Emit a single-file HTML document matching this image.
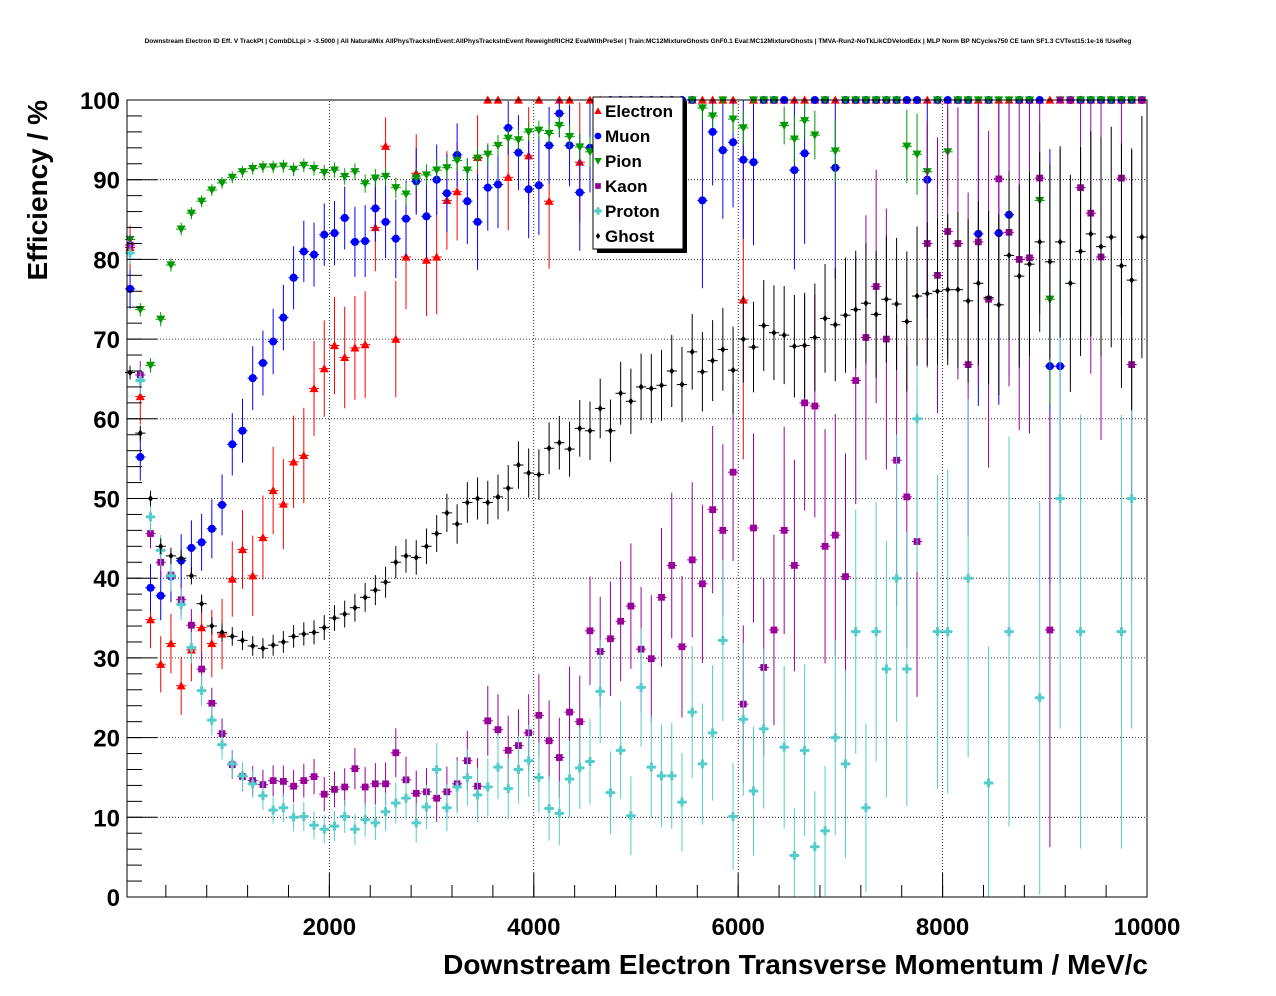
<!DOCTYPE html>
<html><head><meta charset="utf-8">
<style>
html,body{margin:0;padding:0;background:#fff;}
svg{display:block;font-family:"Liberation Sans",sans-serif;}
</style></head>
<body>
<svg id="chart" width="1276" height="996" viewBox="0 0 1276 996">
<text x="638" y="43" text-anchor="middle" font-size="6.5" font-weight="bold">Downstream Electron ID Eff. V TrackPt | CombDLLpi &gt; -3.5000 | All NaturalMix AllPhysTracksInEvent:AllPhysTracksInEvent ReweightRICH2 EvalWithPreSel | Train:MC12MixtureGhosts GhF0.1 Eval:MC12MixtureGhosts | TMVA-Run2-NoTkLikCDVelodEdx | MLP Norm BP NCycles750 CE tanh SF1.3 CVTest15:1e-16 !UseReg</text>
<g id="grid"></g>
<g id="marks"></g>
<rect x="127" y="100" width="1020" height="797" fill="none" stroke="#000" stroke-width="1"/>
<g id="axes"></g>
<text x="1148" y="974" text-anchor="end" font-size="28" font-weight="bold">Downstream Electron Transverse Momentum / MeV/c</text>
<text transform="translate(47,100) rotate(-90)" text-anchor="end" font-size="28" font-weight="bold">Efficiency / %</text>
<g id="legend"></g>
</svg>
<script>
const xTicks=[2000,4000,6000,8000,10000];
const yTicks=[0,10,20,30,40,50,60,70,80,90,100];
const seriesNames=["Electron","Muon","Pion","Kaon","Proton","Ghost"];
const electron=[81.5,62.8,34.8,29.2,31.8,26.5,31,33.8,31.8,33,39.9,43.6,40.3,45.1,51,49.3,54.6,55.4,63.8,66.3,69.2,67.7,68.9,69.3,84,94.2,70,80.3,90.8,79.9,80.3,87.4,88.5,null,92.8,100,100,90.3,100,93,100,87.3,100,100,92.2,100,100,100,100,100,100,100,100,100,100,100,100,100,100,100,74.9,100,100,100,100,100,100,100,100,100,100,100,100,100,100,100,100,100,100,100,100,100,100,100,100,100,100,100,100,100,100,100,100,100,100,100,100,100,100,100];
const muon=[76.3,55.2,38.8,37.8,40.2,42.2,43.8,44.5,46.2,49.2,56.8,58.5,65.1,67,69.7,72.7,77.7,81,80.6,83.1,83.3,85.2,82.2,82.3,86.4,84.7,82.6,85.1,89.8,85.4,90,88.3,93.1,87.3,84.7,89,89.4,96.5,93.4,88.8,89.3,94.3,98.3,94.3,88.4,94,89.3,100,100,100,100,100,100,100,100,100,87.4,96,93.7,94.7,92.5,92.2,100,100,100,91.2,93.3,100,100,91.5,100,100,100,100,100,100,100,100,90,100,100,100,100,83.2,100,83.3,85.6,100,100,100,66.6,66.6,100,100,100,100,100,100,100,100];
const pion=[82.5,73.7,66.7,72.5,79.3,83.8,85.8,87.3,88.7,89.6,90.3,91,91.4,91.6,91.6,91.7,91.3,91.8,91.4,90.9,91.2,90.4,91,89.5,90.2,90.4,89,88.2,90.2,90.6,91.2,91.5,92.4,91.2,92.7,93.2,94.3,95.2,95,96,96.2,95.8,96.8,95.4,94.1,93.5,96,97,95,98,96,99,97,95,98,100,99,98,100,97.6,96.5,100,100,100,96.8,95.1,97.4,95.6,100,93.6,100,100,100,100,100,100,94.2,93.2,91,100,93.5,100,100,100,100,100,100,100,100,87.4,75,100,100,100,100,100,100,100,100,100];
const kaon=[81.8,65.5,45.6,42,40.4,37.3,34.1,28.6,24.3,20.5,16.6,15.1,14.6,14.1,14.6,14.5,13.9,14.6,15.1,12.9,13.5,13.8,16.1,13.8,14.2,14.2,18.1,14.7,13,13.2,12.4,13.2,14.2,17.1,13.9,22.1,21,18.4,19,20.6,22.8,19.6,17.5,23.2,22,33.4,30.8,32.4,34.6,36.5,31.1,29.9,37.6,41.6,31.4,42.3,39.3,48.6,46,53.3,24.2,46.3,28.8,33.5,46,41.6,62,61.6,44,45.4,40.2,64.8,70.2,76.6,70,54.8,50.2,44.6,82,78,83.5,82,66.8,82.2,75,90.1,83.4,80,80.2,90.2,33.5,100,100,89,85.8,80.3,null,90.2,66.8,100];
const proton=[80.8,64.8,47.7,43.5,40.3,36.7,31.3,25.9,22.2,19.1,16.7,15.2,14.2,12.7,10.9,11.2,10,10.1,9,8.5,8.9,10.1,8.5,9.7,9.3,10.7,11.8,12.4,9.3,11.3,16,11.2,13.8,15,12.8,13.8,16.3,13.6,16,17.1,15,11.1,10.5,14.8,16.2,17,25.8,13.1,18.4,10.2,26.3,16.3,15.2,15.2,11.9,23.2,16.7,20.6,32.2,10.1,22.3,13.3,21.1,null,18.8,5.2,18.4,6.3,8.3,20,16.7,33.3,11.2,33.3,28.6,40,28.6,60,null,33.3,33.3,null,40,null,14.3,null,33.3,null,null,25,null,50,null,33.3,null,null,null,33.3,50,null];
const ghost=[65.8,58.2,50,44,42.8,42.5,40.3,36.8,34,33.2,32.7,32.2,31.5,31.2,31.6,32,32.7,33,33.2,33.8,35,35.5,36.3,37.6,38.5,39.5,42,42.8,42.6,44,45.6,48.2,46.8,49.5,50,49.5,50.2,51.3,54.2,53.2,53,56.3,57,56.2,58.8,58.5,61.3,58.5,63.2,62.2,64,63.8,64.2,66,64.3,68.4,65.9,67.3,68.7,66.1,70,69,71.7,70.8,70.5,69.1,69.2,70.2,72.6,71.8,73,73.7,74.5,73.1,75,74.4,72.2,75.4,75.7,76,76.2,76.2,74.8,77,75.2,74.3,80.5,77.9,79.4,82.2,79.7,82.2,77,81,83.2,81.6,82.8,79.2,77.4,82.8];
const binWidth=100;

const X0=127,X1=1147,Y0=897,Y1=100,XMIN=20,XMAX=10000;
const sx=v=>X0+((v-XMIN)/(XMAX-XMIN))*(X1-X0);
const sy=v=>Y0-(v/100)*(Y0-Y1);
const NS="http://www.w3.org/2000/svg";
function mk(tag,attrs,parent){const e=document.createElementNS(NS,tag);for(const k in attrs)e.setAttribute(k,attrs[k]);parent.appendChild(e);return e;}
const grid=document.getElementById('grid'),axes=document.getElementById('axes'),marks=document.getElementById('marks'),legend=document.getElementById('legend');

xTicks.forEach(t=>{
  const l=mk('line',{x1:sx(t),x2:sx(t),y1:Y0,y2:Y1,stroke:'#000','stroke-width':0.8,'stroke-dasharray':'1,2'},grid);
  
  
  const tk=mk('line',{x1:sx(t),x2:sx(t),y1:Y0,y2:Y0-24,stroke:'#000'},axes);
  
  
  const tx=mk('text',{x:sx(t),y:935,'text-anchor':'middle','font-size':24,'font-weight':'bold'},axes);
  tx.textContent=t;
  
  
});
for(let v=400;v<=10000;v+=400){const m=mk('line',{x1:sx(v),x2:sx(v),y1:Y0,y2:Y0-12,stroke:'#000'},axes);
  
  }
yTicks.forEach(t=>{
  if(t>0&&t<100){const l=mk('line',{x1:X0,x2:X1,y1:sy(t),y2:sy(t),stroke:'#000','stroke-width':0.8,'stroke-dasharray':'1,2'},grid);
  
  }
  const tk=mk('line',{x1:X0,x2:X0+30,y1:sy(t),y2:sy(t),stroke:'#000'},axes);
  
  
  const tx=mk('text',{x:120,y:sy(t)+9,'text-anchor':'end','font-size':24,'font-weight':'bold'},axes);
  tx.textContent=t;
  
  
});
for(let v=0;v<=100;v+=2){const m=mk('line',{x1:X0,x2:X0+15,y1:sy(v),y2:sy(v),stroke:'#000'},axes);
  
  }

const colors=["#ff0000","#0000ff","#009900","#990099","#55cccc","#000000"];
const shapes=["tri","circ","tridown","sq","cross","diam"];
const datasets=[electron,muon,pion,kaon,proton,ghost];
const counts=[200,300,3000,800,800,3000];

function marker(shape,cx,cy,col,parent,s){
  let e;
  if(shape==='tri')e=mk('polygon',{points:`${cx},${cy-s} ${cx-s},${cy+s*0.8} ${cx+s},${cy+s*0.8}`,fill:col},parent);
  else if(shape==='tridown')e=mk('polygon',{points:`${cx},${cy+s} ${cx-s},${cy-s*0.8} ${cx+s},${cy-s*0.8}`,fill:col},parent);
  else if(shape==='circ')e=mk('circle',{cx:cx,cy:cy,r:s*0.9,fill:col},parent);
  else if(shape==='sq')e=mk('rect',{x:cx-s*0.75,y:cy-s*0.75,width:s*1.5,height:s*1.5,fill:col},parent);
  else if(shape==='cross')e=mk('path',{d:`M${cx-s},${cy-1.5}h${s-1.5}v-${s-1.5}h3v${s-1.5}h${s-1.5}v3h-${s-1.5}v${s-1.5}h-3v-${s-1.5}h-${s-1.5}z`,fill:col},parent);
  else e=mk('polygon',{points:`${cx},${cy-s*0.7} ${cx+s*0.5},${cy} ${cx},${cy+s*0.7} ${cx-s*0.5},${cy}`,fill:col},parent);
  return e;
}

datasets.forEach((arr,si)=>{
  const g=mk('g',{},marks);
  
  
  arr.forEach((v,i)=>{
    if(v===null||v===undefined)return;
    const xc=(i+0.5)*binWidth, cx=sx(xc), cy=sy(v);
    const n=Math.max(3,counts[si]*Math.exp(-i/16));
    const p=Math.min(Math.max(v/100,0.02),0.98);
    let err=100*Math.sqrt(p*(1-p)/n);
    if(v>=100)err=0;
    const col=colors[si];
    const h=mk('line',{x1:sx(xc-binWidth/2),x2:sx(xc+binWidth/2),y1:cy,y2:cy,stroke:col,'stroke-width':1},g);
    
    
    if(err>0){const ve=mk('line',{x1:cx,x2:cx,y1:sy(Math.min(100,v+err)),y2:sy(Math.max(0,v-err)),stroke:col,'stroke-width':1},g);
      
      }
    const m=marker(shapes[si],cx,cy,col,g,si===5?5:4.5);
    
    
  });
});

const sh=mk('rect',{x:597,y:101,width:90,height:152,fill:'#000'},legend);


const bx=mk('rect',{x:593,y:97,width:90,height:152,fill:'#fff',stroke:'#000'},legend);


seriesNames.forEach((nm,i)=>{
  const y=111+i*25;
  const g=mk('g',{},legend);
  
  
  marker(shapes[i],598,y,colors[i],g,i===5?4.5:3.8);
  const t=mk('text',{x:605,y:y+6,'font-size':17,'font-weight':'bold'},g);
  t.textContent=nm;
});
</script>
</body></html>
